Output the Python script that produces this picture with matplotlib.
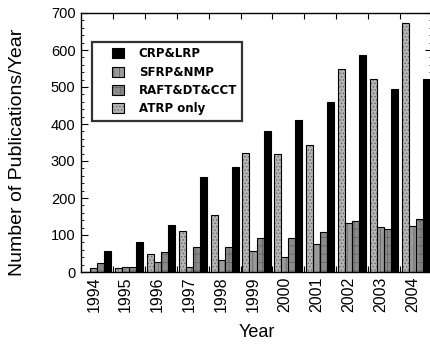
import matplotlib
matplotlib.use("Agg")
import matplotlib.pyplot as plt
import numpy as np
from matplotlib.ticker import MultipleLocator
from matplotlib.legend_handler import HandlerPatch
from matplotlib.patches import Rectangle
from matplotlib.container import BarContainer

plt.rcParams['font.family'] = ['Liberation Sans', 'DejaVu Sans']
plt.rcParams['hatch.linewidth'] = 0.6

# -------------------------------
# data
# -------------------------------
years = ['1994', '1995', '1996', '1997', '1998', '1999',
         '2000', '2001', '2002', '2003', '2004']
atrp_only = [0, 12, 48, 111, 154, 322, 318, 343, 548, 522, 672]
sfrp_nmp = [10, 13, 28, 14, 32, 58, 40, 76, 132, 122, 124]
raft_dt_cct = [23, 14, 53, 68, 68, 91, 91, 107, 138, 115, 142]
crp_lrp = [57, 82, 127, 258, 283, 382, 411, 460, 586, 494, 522]


def small_swatch(legend, orig_handle, xdescent, ydescent, width, height, fontsize):
    # swatch sits at the right end of the handle slot
    sw = 1.05 * fontsize
    sh = 0.85 * fontsize
    return Rectangle((width - sw - xdescent, (height - sh) / 2 - ydescent), sw, sh)


def copy_style(legend_handle, orig_handle):
    src = orig_handle.patches[0]
    legend_handle.update_from(src)
    legend_handle._hatch_color = src._hatch_color


# -------------------------------
# plot
# -------------------------------
fig = plt.figure(figsize=(4.3, 3.44), dpi=100)
ax = fig.add_axes([81 / 430, 1 - 272 / 344, 351 / 430, 259 / 344])

x = np.arange(len(years))
w = 0.22

# bars in group order: ATRP, SFRP, RAFT, CRP (black on the right)
b_atrp = ax.bar(x - 1.5 * w, atrp_only, w, color='#b5b5b5', edgecolor='black',
                linewidth=0.8, hatch='.....', label='ATRP only')
b_sfrp = ax.bar(x - 0.5 * w, sfrp_nmp, w, color='#9a9a9a', edgecolor='black',
                linewidth=0.8, hatch='|||', label='SFRP&NMP')
b_raft = ax.bar(x + 0.5 * w, raft_dt_cct, w, color='#8a8a8a', edgecolor='black',
                linewidth=0.8, hatch='++', label='RAFT&DT&CCT')
b_crp = ax.bar(x + 1.5 * w, crp_lrp, w, color='black', edgecolor='black',
               linewidth=0.8, label='CRP&LRP')
for bars in (b_atrp, b_sfrp, b_raft):
    for p in bars:
        p._hatch_color = (0.4, 0.4, 0.4, 1.0)

ax.set_xlim(-0.5, 10.5)
ax.set_ylim(0, 700)

# tick marks between groups, labels under the groups
ax.set_xticks(x[1:] - 0.5)
ax.set_xticklabels([])
ax.set_xticks(x - 0.1, minor=True)
ax.set_xticklabels(years, minor=True, rotation=90, fontsize=11.5)
ax.tick_params(axis='x', which='major', direction='in', length=4, width=0.8,
               top=True, bottom=True)
ax.tick_params(axis='x', which='minor', length=0, pad=3.5)

ax.yaxis.set_major_locator(MultipleLocator(100))
ax.yaxis.set_minor_locator(MultipleLocator(20))
ax.tick_params(axis='y', which='major', direction='in', length=5, width=0.8,
               left=True, right=True, labelsize=10.5, pad=4)
ax.tick_params(axis='y', which='minor', direction='in', length=2.5, width=0.6,
               left=True, right=True)

for s in ax.spines.values():
    s.set_linewidth(1.0)

ax.set_ylabel('Number of Publications/Year', fontsize=14)
ax.yaxis.set_label_coords(-55 / 351, (272 - 152) / 259)
ax.set_xlabel('Year', fontsize=13, labelpad=8)

leg = ax.legend(handles=[b_crp, b_sfrp, b_raft, b_atrp],
                loc='upper left', bbox_to_anchor=(11 / 351, 1 - 29 / 259),
                borderaxespad=0,
                prop={'family': 'DejaVu Sans', 'weight': 'bold', 'size': 8.5},
                frameon=True, fancybox=False, borderpad=0.45,
                labelspacing=0.45, handlelength=2.3, handleheight=1.0,
                handletextpad=1.2,
                handler_map={BarContainer: HandlerPatch(patch_func=small_swatch,
                                                        update_func=copy_style)})
leg.get_frame().set_edgecolor('black')
leg.get_frame().set_linewidth(1.6)

fig.savefig('out.png', dpi=100)
